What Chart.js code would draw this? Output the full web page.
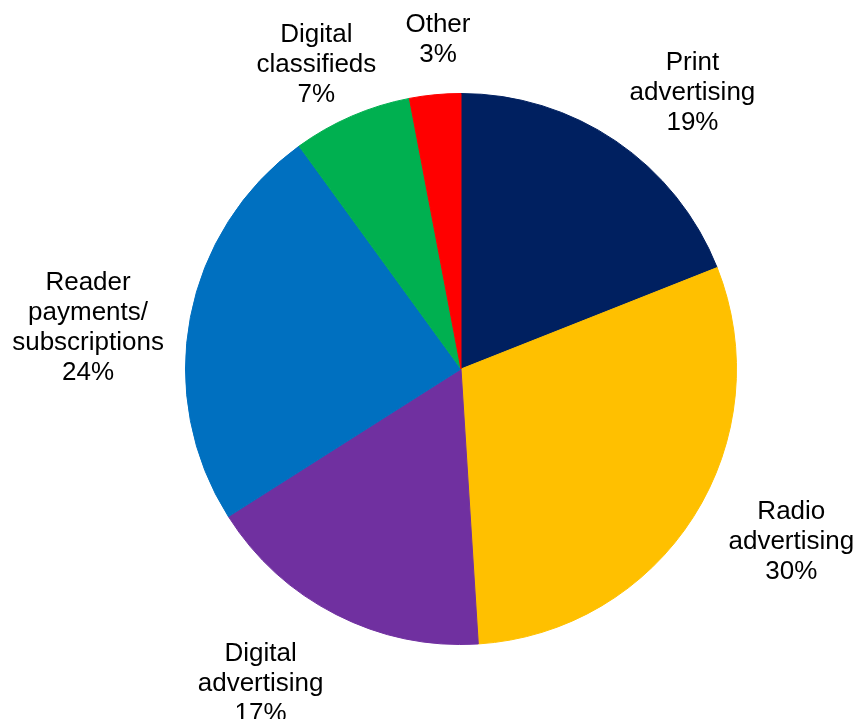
<!DOCTYPE html>
<html>
<head>
<meta charset="utf-8">
<script src="https://cdn.jsdelivr.net/npm/chart.js@4.4.1/dist/chart.umd.min.js"></script>
<style>
  body { margin: 0; background: #fff; }
  #wrap { width: 857px; height: 719px; position: relative; }
</style>
</head>
<body>
<div id="wrap"><canvas id="revenueChart"></canvas></div>
<script>
// revenue split, clockwise from 12 o'clock
const categories = [
    ['Print', 'advertising'],
    ['Radio', 'advertising'],
    ['Digital', 'advertising'],
    ['Reader', 'payments/', 'subscriptions'],
    ['Digital', 'classifieds'],
    ['Other']
]
const shares = [19, 30, 17, 24, 7, 3]
const sliceColors = ['#002060', '#FFC000', '#7030A0', '#0070C0', '#00B050', '#FF0000']

// label placement: angle nudge (deg) from slice middle, distance as multiple of radius
const labelNudge = [
    [5.8, 1.307],
    [-4.8, 1.353],
    [5.5, 1.354],
    [-4.5, 1.362],
    [-2.0, 1.224],
    [1.4, 1.199]
]

const ctx = document.getElementById('revenueChart')

// draws the category name and percentage outside each slice
const outsideLabels = {
    id: 'outsideLabels',
    afterDatasetsDraw(chart) {
        const c = chart.ctx
        const arcs = chart.getDatasetMeta(0).data
        c.save()
        c.font = '26px "Liberation Sans", Arial, sans-serif'
        c.fillStyle = '#000'
        c.textAlign = 'center'
        c.textBaseline = 'middle'
        const lineH = 30
        arcs.forEach((arc, i) => {
            const mid = (arc.startAngle + arc.endAngle) / 2 + labelNudge[i][0] * Math.PI / 180
            const dist = arc.outerRadius * labelNudge[i][1]
            const cx = arc.x + Math.cos(mid) * dist
            const cy = arc.y + Math.sin(mid) * dist
            const lines = categories[i].concat([shares[i] + '%'])
            const top = cy - (lines.length - 1) * lineH / 2
            lines.forEach((txt, j) => {
                c.fillText(txt, cx, top + j * lineH)
            })
        })
        c.restore()
    }
}

const revenueChart = new Chart(ctx, {
    type: 'pie',
    data: {
        labels: categories.map((l) => l.join(' ')),
        datasets: [{
            data: shares,
            backgroundColor: sliceColors,
            borderColor: sliceColors,
            borderWidth: 1
        }]
    },
    options: {
        responsive: true,
        maintainAspectRatio: false,
        animation: false,
        layout: {
            padding: { left: 185, right: 120, top: 93, bottom: 74 }
        },
        plugins: {
            legend: { display: false },
            tooltip: { enabled: false }
        }
    },
    plugins: [outsideLabels]
})
</script>
</body>
</html>
